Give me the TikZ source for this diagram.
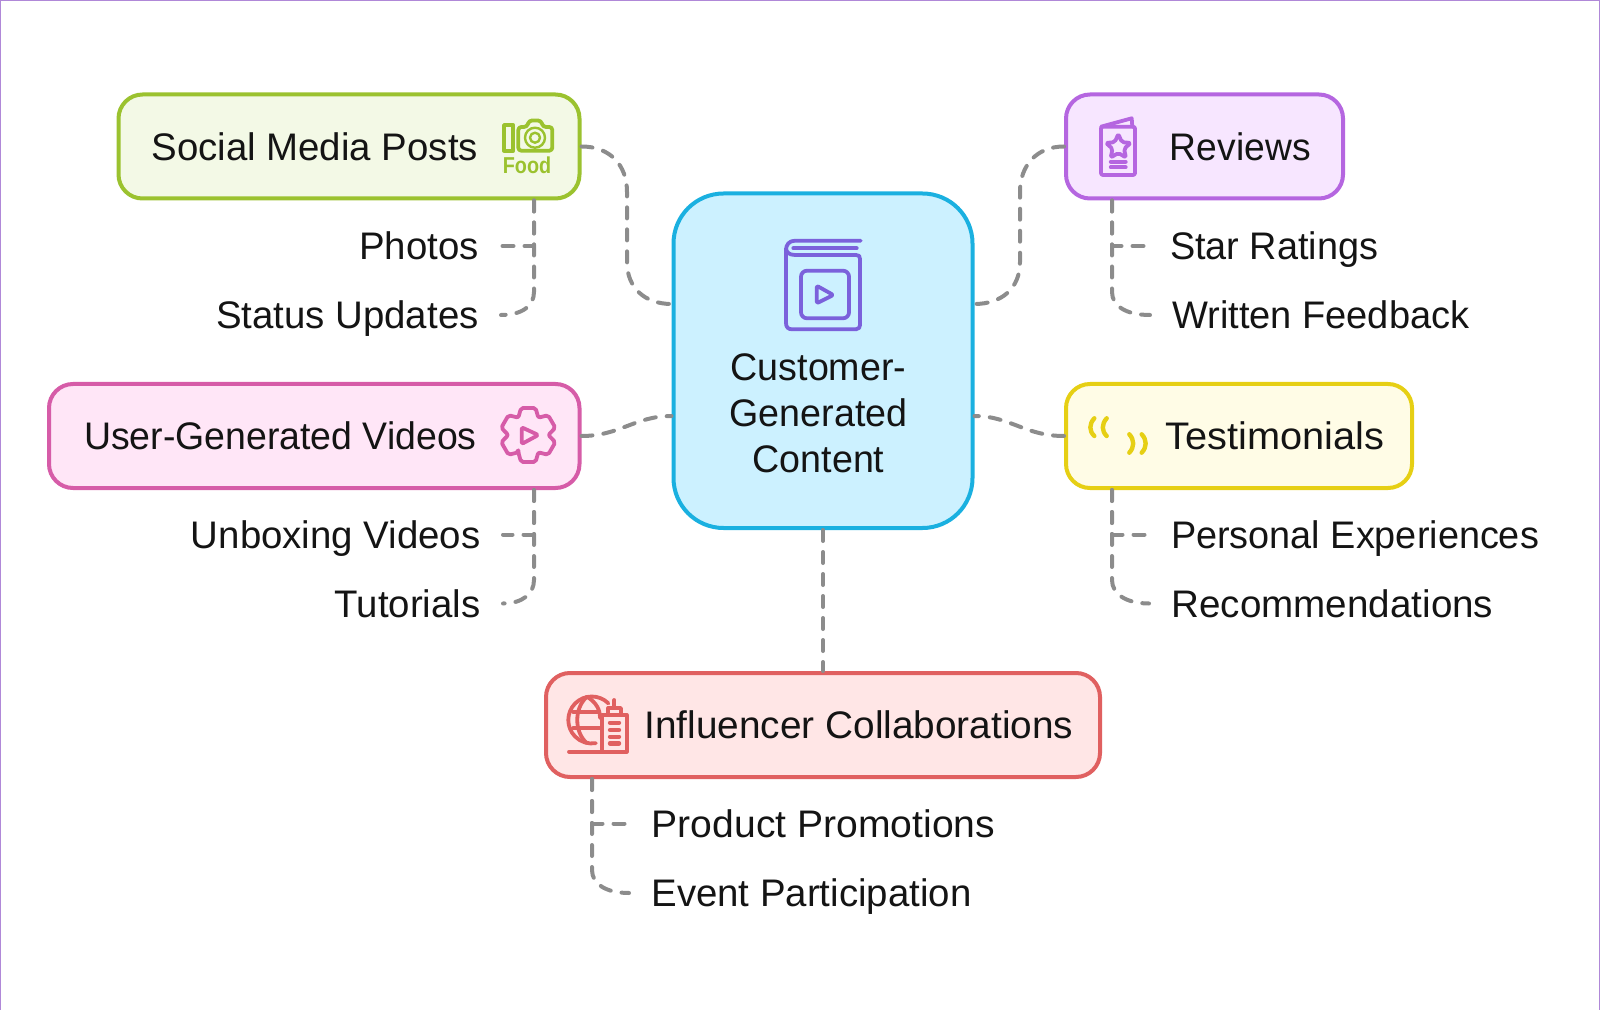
\documentclass[tikz,border=0pt]{standalone}
\usepackage{xcolor}
\usepackage{fontspec}
\setmainfont{Liberation Sans}
\usetikzlibrary{shapes,positioning,calc}
\definecolor{socialline}{RGB}{155,194,47}
\definecolor{socialfill}{RGB}{243,249,230}
\definecolor{coreline}{RGB}{26,176,224}
\definecolor{corefill}{RGB}{204,241,255}
\definecolor{coreicon}{RGB}{123,97,219}
\definecolor{reviewline}{RGB}{181,102,224}
\definecolor{reviewfill}{RGB}{247,230,255}
\definecolor{videoline}{RGB}{214,92,168}
\definecolor{videofill}{RGB}{255,230,247}
\definecolor{quoteline}{RGB}{230,207,20}
\definecolor{quotefill}{RGB}{255,252,230}
\definecolor{influline}{RGB}{224,96,96}
\definecolor{influfill}{RGB}{255,230,230}
\definecolor{linkgray}{RGB}{140,140,140}
\definecolor{inkblack}{RGB}{20,20,20}
\definecolor{framepurple}{RGB}{176,136,216}

\begin{document}
\begin{tikzpicture}[
    x=0.5pt, y=-0.5pt,
    branchbox/.style={draw, rectangle, rounded corners=12pt, line width=2pt, inner sep=0pt, minimum height=52pt},
    maintext/.style={font=\fontsize{19.2}{23}\selectfont, text=inkblack, inner xsep=0pt, inner ysep=0pt, text height=13.75pt, text depth=0pt},
    leaftext/.style={maintext, inner xsep=11pt},
    link/.style={draw=linkgray, line width=2pt, line cap=round, dash pattern=on 5.5pt off 5.5pt},
    iconline/.style={line width=1.9pt, line cap=round, line join=round}
]
\useasboundingbox (0,0) rectangle (1600,1010);

% Frame
\draw[framepurple, line width=1.2pt] (0,1010) -- (0,0) -- (1600,0) -- (1600,1010);

% Center
\node[branchbox, draw=coreline, fill=corefill, minimum width=149.5pt, minimum height=167.25pt, rounded corners=25pt] (core) at (823,360.75) {};
\node[font=\fontsize{19.2}{23}\selectfont, text=inkblack, align=center, inner sep=0pt, xscale=0.98] (corelabel) at (818.5,413) {Customer-\\Generated\\Content};

% Branches
\node[branchbox, draw=socialline, fill=socialfill, minimum width=230.5pt] (social) at (349,146.5) {};
\node[branchbox, draw=reviewline, fill=reviewfill, minimum width=138.5pt] (reviews) at (1204.5,146.5) {};
\node[branchbox, draw=videoline, fill=videofill, minimum width=265.25pt] (videos) at (314.25,436) {};
\node[branchbox, draw=quoteline, fill=quotefill, minimum width=173pt] (testimonials) at (1239,436) {};
\node[branchbox, draw=influline, fill=influfill, minimum width=277pt] (influencer) at (823,725) {};

\node[maintext, anchor=west] (sociallabel) at (151,146.5) {Social Media Posts};
\node[maintext, anchor=west, xscale=0.97] (reviewslabel) at (1169.5,146.5) {Reviews};
\node[maintext, anchor=west, xscale=0.975] (videoslabel) at (83.7,436) {User-Generated Videos};
\node[maintext, anchor=west, xscale=1.035] (testimonialslabel) at (1165,436) {Testimonials};
\node[maintext, anchor=west, xscale=1.01] (influencerlabel) at (644,725) {Influencer Collaborations};

% Leaves
\node[leaftext, anchor=east] (photos) at (501,246) {Photos};
\node[leaftext, anchor=east] (status) at (501,315) {Status Updates};
\node[leaftext, anchor=east] (unboxing) at (503,534.5) {Unboxing Videos};
\node[leaftext, anchor=east] (tutorials) at (503,603.5) {Tutorials};
\node[leaftext, anchor=west, xscale=0.985] (ratings) at (1148,246) {Star Ratings};
\node[leaftext, anchor=west, xscale=0.99] (feedback) at (1150,315) {Written Feedback};
\node[leaftext, anchor=west, xscale=0.985] (experiences) at (1149,534.5) {Personal Experiences};
\node[leaftext, anchor=west, xscale=1.005] (recommend) at (1149,603.5) {Recommendations};
\node[leaftext, anchor=west, xscale=1.018] (promotions) at (629,823.5) {Product Promotions};
\node[leaftext, anchor=west] (events) at (629,893) {Event Participation};

% Connections
\draw[link] (social.east) .. controls (610,146.5) and (627,165) .. (627,192) -- (627,262) .. controls (627,288) and (645,304) .. (core.west |- 0,304);
\draw[link] (reviews.west) .. controls (1037,146.5) and (1020,165) .. (1020,192) -- (1020,262) .. controls (1020,288) and (1002,304) .. (core.east |- 0,304);
\draw[link] (videos.east) .. controls (620,436) and (635,416) .. (core.west |- 0,416);
\draw[link] (testimonials.west) .. controls (1025,436) and (1010,416) .. (core.east |- 0,416);
\draw[link] (core.south) -- (influencer.north);

\draw[link] (social.south -| 534,0) -- (534,246) -- (photos.east);
\draw[link] (social.south -| 534,0) -- (534,292) .. controls (534,306) and (522,315) .. (status.east);
\draw[link] (videos.south -| 534,0) -- (534,534.5) -- (unboxing.east);
\draw[link] (videos.south -| 534,0) -- (534,580) .. controls (534,594) and (522,603.5) .. (tutorials.east);
\draw[link] (reviews.south -| 1112,0) -- (1112,246) -- (ratings.west);
\draw[link] (reviews.south -| 1112,0) -- (1112,292) .. controls (1112,306) and (1126,315) .. (feedback.west);
\draw[link] (testimonials.south -| 1112,0) -- (1112,534.5) -- (experiences.west);
\draw[link] (testimonials.south -| 1112,0) -- (1112,580) .. controls (1112,594) and (1126,603.5) .. (recommend.west);
\draw[link] (influencer.south -| 592,0) -- (592,823.5) -- (promotions.west);
\draw[link] (influencer.south -| 592,0) -- (592,870) .. controls (592,884) and (606,893) .. (events.west);

% Book icon
\draw[iconline, coreicon] (860.7,240.7) -- (795,240.7) .. controls (789,240.7) and (786,245) .. (786,250) -- (786,323) .. controls (786,327) and (788,329.3) .. (792,329.3) -- (856,329.3) .. controls (859,329.3) and (860,327) .. (860,325) -- (860,259) .. controls (860,256) and (859,255) .. (856,255) -- (795,255) .. controls (789,255) and (786,252) .. (786,248);
\draw[iconline, coreicon] (793.3,248.3) -- (856.7,248.3);
\draw[iconline, coreicon, rounded corners=3pt] (801,270.7) rectangle (849,318.3);
\draw[iconline, coreicon, rounded corners=1pt] (816.7,285.7) -- (833.3,295) -- (816.7,303.3) -- cycle;

% Camera icon
\draw[iconline, socialline] (504,125) rectangle (513.3,150.7);
\draw[iconline, socialline, rounded corners=1.5pt] (518.3,127) -- (527,127) -- (529,120.5) -- (541,120.5) -- (543,127) -- (552.3,127) -- (552.3,150.7) -- (518.3,150.7) -- cycle;
\draw[iconline, socialline, line width=1.2pt] (535,137.7) circle (10) (535,137.7) circle (5);
\node[font=\fontsize{11.5}{12}\bfseries\selectfont, text=socialline, inner sep=0pt, xscale=0.86] (foodlabel) at (527,165) {Food};

% Card icon
\draw[iconline, reviewline, rounded corners=1pt] (1101,126.7) -- (1135,126.7) -- (1135,175) -- (1101,175) -- cycle;
\draw[iconline, reviewline] (1101,126.7) -- (1131.7,118.3) -- (1132.3,126.7);
\draw[iconline, reviewline, rounded corners=1pt, shift={(1118.3,147)}] (-90:13) -- (-54:6) -- (-18:13) -- (18:6) -- (54:13) -- (90:6) -- (126:13) -- (162:6) -- (198:13) -- (234:6) -- cycle;
\draw[iconline, reviewline] (1110.7,161.7) -- (1125.7,161.7) (1110.7,167.3) -- (1125.7,167.3);

% Gear icon
\draw[iconline, videoline, rounded corners=1pt, shift={(528.3,435)}] (120:20) \foreach \a in {90,30,-30,-90,-150,-210}{ -- (\a+15:28) -- (\a-15:28) -- (\a-30:20)} -- cycle;
\draw[iconline, videoline, rounded corners=1pt] (521.7,427.3) -- (538.3,435) -- (521.7,444) -- cycle;

% Quote icon
\draw[iconline, quoteline, line width=2.2pt] (1094.3,418.3) .. controls (1089,424) and (1089,431) .. (1094.3,436);
\draw[iconline, quoteline, line width=2.2pt] (1106.7,418.3) .. controls (1101.5,424) and (1101.5,431) .. (1106.7,436);
\draw[iconline, quoteline, line width=2.2pt] (1129.3,434.3) .. controls (1134.5,440) and (1134.5,447) .. (1129.3,452.7);
\draw[iconline, quoteline, line width=2.2pt] (1141.7,434.3) .. controls (1147,440) and (1147,447) .. (1141.7,452.7);

% Globe icon
\draw[iconline, influline] (591.8,720) +(-45:23.5) arc[start angle=-45, end angle=-280, radius=23.5];
\draw[iconline, influline] (587,696.7) .. controls (574,708) and (574,732) .. (587,743.3);
\draw[iconline, influline] (587,696.7) .. controls (597,703) and (600,710) .. (600,718);
\draw[iconline, influline] (573,711.7) -- (599,711.7) (573,728.3) -- (600,728.3);
\draw[iconline, influline] (569,751.7) -- (626.7,751.7);
\draw[iconline, influline] (602.3,751.7) -- (602.3,715) -- (626.7,715) -- (626.7,751.7);
\draw[iconline, influline] (608.3,715) -- (608.3,708) -- (621,708) -- (621,715);
\draw[iconline, influline] (614.3,700) -- (614.3,708);
\draw[iconline, influline, line width=2.2pt] (610,722.7) -- (619,722.7) (610,730) -- (619,730) (610,736.7) -- (619,736.7) (610,743.3) -- (619,743.3);

\end{tikzpicture}
\end{document}
